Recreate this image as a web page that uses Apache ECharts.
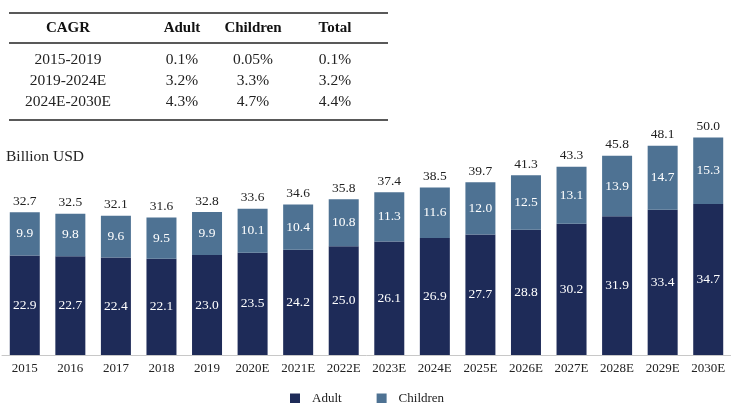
<!DOCTYPE html>
<html>
<head>
<meta charset="utf-8">
<script src="https://cdn.jsdelivr.net/npm/echarts@6/dist/echarts.min.js"></script>
<style>
  html, body { margin: 0; padding: 0; background: #fff; }
  #chart { width: 731px; height: 403px; }
</style>
</head>
<body>
<div id="chart"></div>
<script>
// Market size by year, split into adult and children segments (Billion USD)
const years = ['2015','2016','2017','2018','2019','2020E','2021E','2022E','2023E','2024E','2025E','2026E','2027E','2028E','2029E','2030E'];
const adult = [22.9, 22.7, 22.4, 22.1, 23.0, 23.5, 24.2, 25.0, 26.1, 26.9, 27.7, 28.8, 30.2, 31.9, 33.4, 34.7];
const children = [9.9, 9.8, 9.6, 9.5, 9.9, 10.1, 10.4, 10.8, 11.3, 11.6, 12.0, 12.5, 13.1, 13.9, 14.7, 15.3];
const totals = [32.7, 32.5, 32.1, 31.6, 32.8, 33.6, 34.6, 35.8, 37.4, 38.5, 39.7, 41.3, 43.3, 45.8, 48.1, 50.0];

// CAGR summary table
const cagrHeader = ['CAGR', 'Adult', 'Children', 'Total'];
const cagrPeriods = ['2015-2019', '2019-2024E', '2024E-2030E'];
const cagrAdult = ['0.1%', '3.2%', '4.3%'];
const cagrChildren = ['0.05%', '3.3%', '4.7%'];
const cagrTotal = ['0.1%', '3.2%', '4.4%'];

const SERIF = '"Liberation Serif", "DejaVu Serif", serif';
const colX = [68, 182, 253, 335];
const rowY = [60, 81, 102];

const tableGraphics = [];
[13, 43, 120].forEach(function (y) {
  tableGraphics.push({
    type: 'line',
    shape: { x1: 9, y1: y, x2: 388, y2: y },
    style: { stroke: '#222', lineWidth: 1.5 }
  });
});
cagrHeader.forEach(function (h, i) {
  tableGraphics.push({
    type: 'text', x: colX[i], y: 28,
    style: { text: h, font: 'bold 15px ' + SERIF, fill: '#111', align: 'center', verticalAlign: 'middle' }
  });
});
const cols = [cagrPeriods, cagrAdult, cagrChildren, cagrTotal];
cols.forEach(function (col, c) {
  col.forEach(function (v, r) {
    tableGraphics.push({
      type: 'text', x: colX[c], y: rowY[r],
      style: { text: v, font: '15.5px ' + SERIF, fill: '#222', align: 'center', verticalAlign: 'middle' }
    });
  });
});
tableGraphics.push({
  type: 'text', x: 6, y: 157,
  style: { text: 'Billion USD', font: '15.5px ' + SERIF, fill: '#222', align: 'left', verticalAlign: 'middle' }
});

const chart = echarts.init(document.getElementById('chart'));
chart.setOption({
  animation: false,
  textStyle: { fontFamily: SERIF },
  graphic: tableGraphics,
  legend: {
    data: ['Adult', 'Children'],
    left: 290, top: 392, padding: 0,
    itemWidth: 10, itemHeight: 10, itemGap: 35,
    icon: 'rect',
    textStyle: { fontFamily: SERIF, fontSize: 13, color: '#222', padding: [0, 0, 0, 7] }
  },
  grid: { left: 2, right: -5, top: 94, bottom: 48 },
  xAxis: {
    type: 'category',
    data: years,
    axisTick: { show: false },
    axisLine: { lineStyle: { color: '#c8c8c8', width: 1 } },
    axisLabel: { fontFamily: SERIF, fontSize: 13, color: '#222', margin: 7, interval: 0 }
  },
  yAxis: {
    type: 'value', min: 0, max: 60,
    show: false,
    splitLine: { show: false }
  },
  series: [
    {
      name: 'Adult', type: 'bar', stack: 'seg', barWidth: 30,
      data: adult,
      itemStyle: { color: '#1e2b58' },
      label: { show: true, position: 'inside', color: '#fff', fontFamily: SERIF, fontSize: 13.5,
        formatter: function (p) { return p.value.toFixed(1); } }
    },
    {
      name: 'Children', type: 'bar', stack: 'seg', barWidth: 30,
      data: children,
      itemStyle: { color: '#4e7293' },
      label: { show: true, position: 'inside', color: '#fff', fontFamily: SERIF, fontSize: 13.5,
        formatter: function (p) { return p.value.toFixed(1); } }
    },
    {
      name: 'Total', type: 'bar', barWidth: 30, barGap: '-100%',
      data: totals,
      itemStyle: { color: 'rgba(0,0,0,0)' },
      silent: true,
      z: 1,
      label: { show: true, position: 'top', distance: 4, color: '#222', fontFamily: SERIF, fontSize: 13.5,
        formatter: function (p) { return p.value.toFixed(1); } }
    }
  ]
});
</script>
</body>
</html>
